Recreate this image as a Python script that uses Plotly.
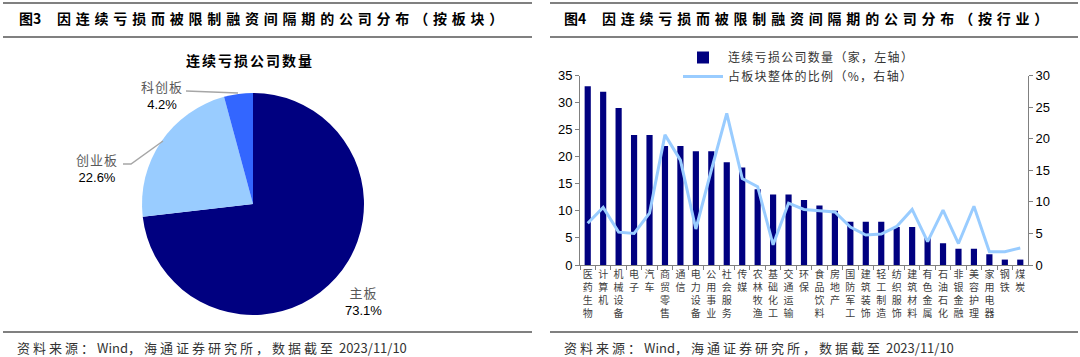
import plotly.graph_objects as go

# ---------------- data ----------------
board_labels = ["主板", "创业板", "科创板"]
board_share = [73.1, 22.6, 4.2]
board_colors = ["#000080", "#99CCFF", "#3366FF"]

industries = ["医药生物", "计算机", "机械设备", "电子", "汽车", "商贸零售", "通信", "电力设备",
              "公用事业", "社会服务", "传媒", "农林牧渔", "基础化工", "交通运输", "环保", "食品饮料",
              "房地产", "国防军工", "建筑装饰", "轻工制造", "纺织服饰", "建筑材料", "有色金属",
              "石油石化", "非银金融", "美容护理", "家用电器", "钢铁", "煤炭"]
loss_count = [33, 32, 29, 24, 24, 22, 22, 21, 21, 19, 18, 14, 13, 13, 12, 11, 10, 8, 8, 8,
              7, 7, 5, 4, 3, 3, 2, 1, 1]
share_pct = [6.6, 9.1, 5.2, 5.0, 8.2, 20.6, 16.6, 5.7, 15.0, 24.0, 13.7, 12.4, 3.2, 9.8, 8.8,
             8.6, 8.4, 6.0, 4.75, 4.9, 6.1, 8.8, 3.7, 8.7, 3.4, 9.3, 2.1, 2.1, 2.7]

left_ticks = [0, 5, 10, 15, 20, 25, 30, 35]
right_ticks = [0, 5, 10, 15, 20, 25, 30]

W, H = 1080, 357
def px(x):
    return x / W
def py(y):
    return 1 - y / H

CJK = "Noto Sans CJK SC"
LAT = "Liberation Sans, Arial"
GRAY_LINE = "#808080"

def spaced(t, sp):
    return f"<span style='letter-spacing:{sp}px'>{t}</span>"

fig = go.Figure()

# ---------------- pie ----------------
fig.add_trace(go.Pie(
    labels=board_labels, values=board_share, sort=False, direction="clockwise", rotation=0,
    marker=dict(colors=board_colors, line=dict(width=0)),
    textinfo="none", hoverinfo="label+percent", showlegend=False,
    domain=dict(x=[px(142), px(364)], y=[py(315), py(93)]),
))

# ---------------- bar + line ----------------
cat_text = ["<br>".join(list(n)) for n in industries]
fig.add_trace(go.Bar(
    x=industries, y=loss_count, name=spaced("连续亏损公司数量（家，左轴）", 1.3),
    marker=dict(color="#000080", line=dict(width=0)), xaxis="x", yaxis="y",
))
fig.add_trace(go.Scatter(
    x=industries, y=share_pct, name=spaced("占板块整体的比例（%，右轴）", 1.3), mode="lines",
    line=dict(color="#99CCFF", width=3), xaxis="x", yaxis="y2",
))

axis_common = dict(showline=True, linecolor=GRAY_LINE, linewidth=1, ticks="outside",
                   tickcolor=GRAY_LINE, ticklen=4, showgrid=False, zeroline=False,
                   automargin=False)

fig.update_layout(
    width=W, height=H, autosize=False,
    margin=dict(l=0, r=0, t=0, b=0, pad=0, autoexpand=False),
    paper_bgcolor="white", plot_bgcolor="white",
    bargap=0.6,
    xaxis=dict(domain=[px(580), px(1028)], type="category", tickson="boundaries",
               tickvals=industries, ticktext=cat_text, tickangle=0,
               tickfont=dict(family=CJK, size=10, color="#404040"), anchor="y",
               **axis_common),
    yaxis=dict(domain=[py(265), py(75.5)], range=[0, 35], tickvals=left_ticks,
               tickfont=dict(family=LAT, size=13, color="#000000"), anchor="x",
               **axis_common),
    yaxis2=dict(overlaying="y", side="right", range=[0, 30], tickvals=right_ticks,
                tickfont=dict(family=LAT, size=13, color="#000000"), anchor="x",
                **axis_common),
    legend=dict(x=px(678), y=py(43), xanchor="left", yanchor="top",
                font=dict(family=CJK, size=12, color="#333333"),
                bgcolor="rgba(0,0,0,0)", tracegroupgap=0, itemwidth=40),
    showlegend=True,
)

# ---------------- decorations ----------------
shapes = []
for x0, x1 in [(3, 532), (550, 1078)]:
    for y in (3, 37, 332):
        shapes.append(dict(type="line", xref="paper", yref="paper",
                           x0=px(x0), x1=px(x1), y0=py(y), y1=py(y),
                           line=dict(color=GRAY_LINE, width=2)))
# pie leader lines
shapes.append(dict(type="line", xref="paper", yref="paper", x0=px(186), y0=py(91),
                   x1=px(238), y1=py(93), line=dict(color="#A6A6A6", width=1.5)))
shapes.append(dict(type="path", xref="paper", yref="paper",
                   path=f"M{px(123)},{py(164)} L{px(131)},{py(164)} L{px(163)},{py(141)}",
                   line=dict(color="#A6A6A6", width=1.5)))

annotations = []
title_font = dict(family=CJK, size=14, color="#000000")
annotations.append(dict(x=px(17), y=py(18), xref="paper", yref="paper", xanchor="left",
                        yanchor="middle", showarrow=False, font=title_font,
                        text="<b>图3</b>     <b>" + spaced("因连续亏损而被限制融资间隔期的公司分布（按板块）", 4.8) + "</b>"))
annotations.append(dict(x=px(562), y=py(18), xref="paper", yref="paper", xanchor="left",
                        yanchor="middle", showarrow=False, font=title_font,
                        text="<b>图4</b>     <b>" + spaced("因连续亏损而被限制融资间隔期的公司分布（按行业）", 4.8) + "</b>"))
src = (spaced("资料来源：", 3) + "Wind" + spaced("，海通证券研究所，数据截至", 3)
       + " 2023/11/10")
for x in (15, 562):
    annotations.append(dict(x=px(x), y=py(347), xref="paper", yref="paper", xanchor="left",
                            yanchor="middle", showarrow=False,
                            font=dict(family=CJK, size=13, color="#333333"), text=src))
annotations.append(dict(x=px(250), y=py(60), xref="paper", yref="paper", showarrow=False,
                        xanchor="center", yanchor="middle",
                        font=dict(family=CJK, size=14, color="#000000"),
                        text="<b>" + spaced("连续亏损公司数量", 2) + "</b>"))
label_pos = {"主板": (363, 300), "创业板": (97, 167), "科创板": (162, 95)}
for lab, val in zip(board_labels, board_share):
    x, y = label_pos[lab]
    annotations.append(dict(x=px(x), y=py(y), xref="paper", yref="paper", showarrow=False,
                            xanchor="center", yanchor="middle",
                            font=dict(family=LAT, size=13, color="#000000"),
                            text=f"<span style='font-family:{CJK};color:#595959;letter-spacing:1px'>{lab}</span><br>{val:.1f}%"))

fig.update_layout(shapes=shapes, annotations=annotations)
fig.write_html("out.html", config={"displayModeBar": False},
               post_script="document.body.style.margin='0';document.body.style.padding='0';document.body.style.overflow='hidden';")
